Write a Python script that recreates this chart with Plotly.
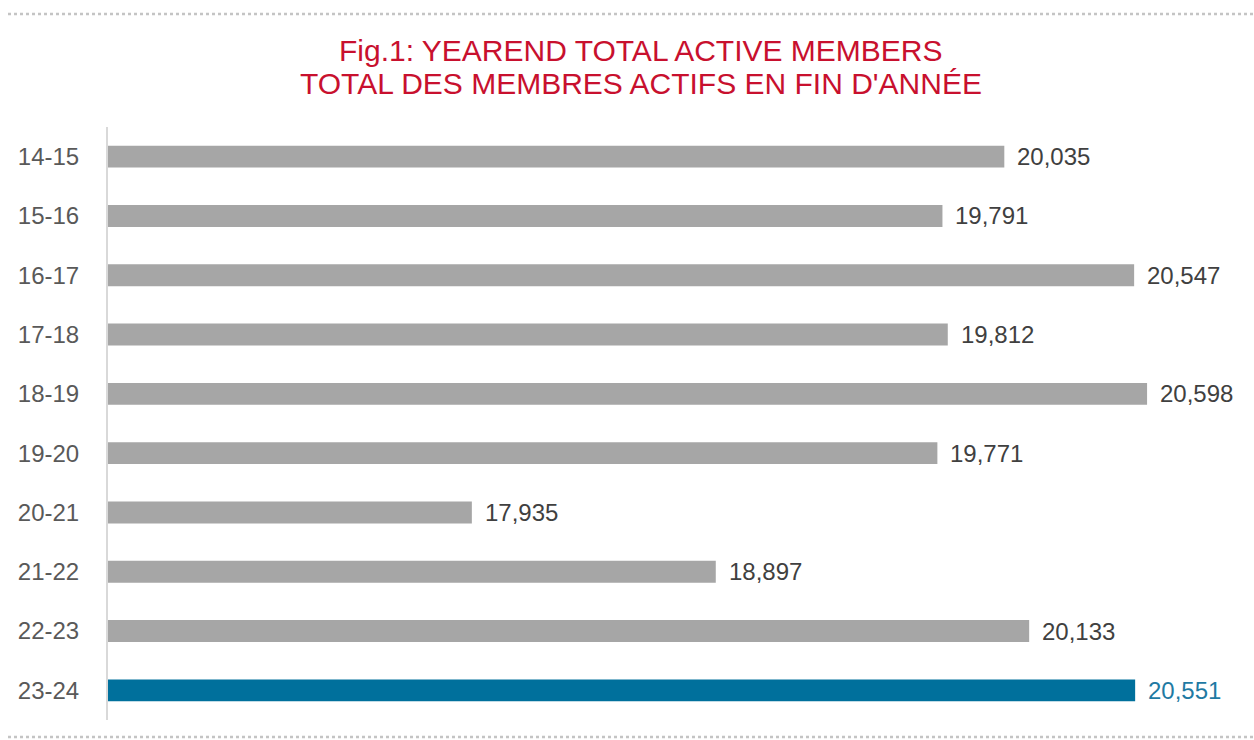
import plotly.graph_objects as go

years = ["14-15", "15-16", "16-17", "17-18", "18-19", "19-20", "20-21", "21-22", "22-23", "23-24"]
members = [20035, 19791, 20547, 19812, 20598, 19771, 17935, 18897, 20133, 20551]
title_lines = ["Fig.1: YEAREND TOTAL ACTIVE MEMBERS", "TOTAL DES MEMBRES ACTIFS EN FIN D'ANNÉE"]

grey = "#A6A6A6"
blue = "#00709C"
colors = [grey] * (len(years) - 1) + [blue]
label_colors = ["#404040"] * (len(years) - 1) + ["#1F7AA3"]
FONT = "Liberation Sans, Arial"

W, H = 1254, 740
L, R, T, B = 108, 5, 127, 20
pw, ph = W - L - R, H - T - B

def px_y(ypix):
    return (H - B - ypix) / ph

def px_x(xpix):
    return (xpix - L) / pw

fig = go.Figure()
fig.add_trace(go.Bar(
    x=members, y=years, orientation="h",
    marker=dict(color=colors, line=dict(width=0)),
    showlegend=False, hoverinfo="skip",
))
for yr, v, c in zip(years, members, label_colors):
    fig.add_annotation(x=v, y=yr, text=f"{v:,}", showarrow=False,
                       xanchor="left", xshift=11, yshift=0,
                       font=dict(family=FONT, size=24, color=c))

for line, ypix in zip(title_lines, (50, 84)):
    fig.add_annotation(xref="paper", yref="paper", x=px_x(641), y=px_y(ypix),
                       text=line, showarrow=False, xanchor="center", yanchor="middle",
                       font=dict(family=FONT, size=30, color="#C8102E"))

fig.update_layout(
    width=W, height=H,
    margin=dict(l=L, r=R, t=T, b=B),
    paper_bgcolor="white", plot_bgcolor="white",
    bargap=0.63,
    xaxis=dict(range=[16500, 21000], visible=False),
    yaxis=dict(categoryorder="array", categoryarray=years, autorange="reversed",
               showline=True, linecolor="#D9D9D9", linewidth=2, ticks="",
               ticklabelstandoff=22, showgrid=False,
               tickfont=dict(family=FONT, size=24, color="#595959")),
)
for ypix in (14, 737):
    fig.add_shape(type="line", xref="paper", yref="paper", x0=px_x(8), x1=px_x(W),
                  y0=px_y(ypix), y1=px_y(ypix), line=dict(color="#C4C4C4", width=2.5, dash="dot"))

fig.write_html("out.html", config={"displayModeBar": False})

with open("out.html", "r", encoding="utf-8") as f:
    html = f.read()
html = html.replace("<body>", '<body style="margin:0;overflow:hidden">', 1)
with open("out.html", "w", encoding="utf-8") as f:
    f.write(html)
